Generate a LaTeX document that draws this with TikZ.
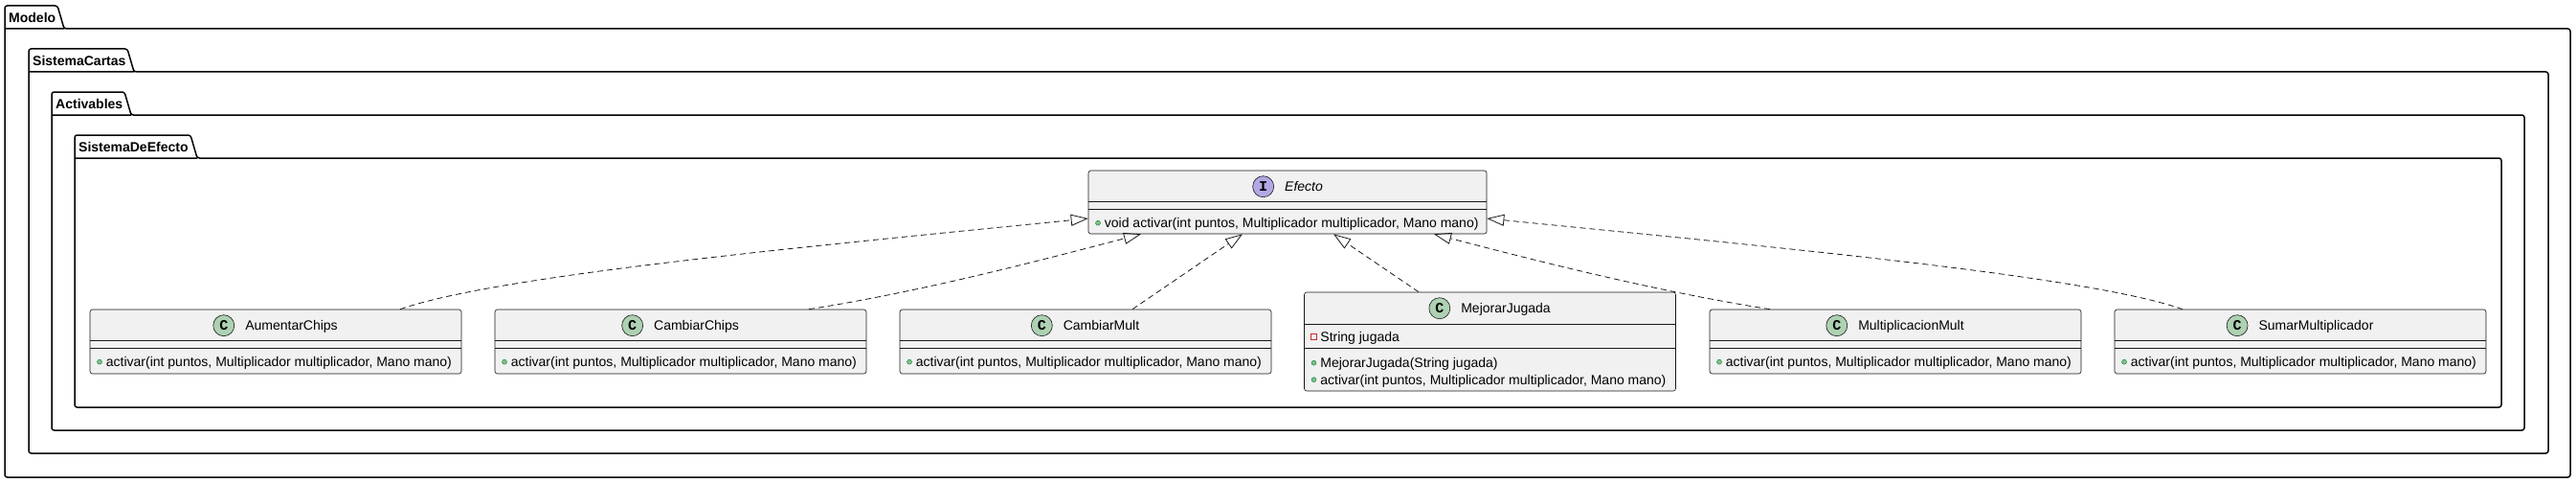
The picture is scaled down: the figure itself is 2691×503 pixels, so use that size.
\documentclass[tikz,border=0pt]{standalone}
\usepackage{fontspec}
\setmainfont{Liberation Sans}
\setmonofont{Liberation Mono}
\usetikzlibrary{arrows.meta,positioning}
\definecolor{umlfill}{HTML}{F1F1F1}
\definecolor{umlline}{HTML}{181818}
\definecolor{spotc}{HTML}{ADD1B2}
\definecolor{spoti}{HTML}{B4A7E5}
\definecolor{pubfill}{HTML}{84BE84}
\definecolor{publine}{HTML}{038048}
\definecolor{privline}{HTML}{C82930}
\tikzset{>={Triangle[open,length=18pt,width=12pt]}}

\begin{document}
\begin{tikzpicture}
    [
      x=1pt, y=-1pt,
      pkg/.style={draw, line width=1.5pt, rounded corners=2.5pt},
      pkgname/.style={font=\bfseries\fontsize{14}{16}\selectfont, inner sep=0pt, anchor=base west},
      sep/.style={draw=umlline, line width=0.6pt},
      cls/.style 2 args={draw=umlline, line width=0.6pt, fill=umlfill, rounded corners=2.5pt,
        minimum width=388pt, minimum height=67pt, inner sep=0pt,
        path picture={
          \draw [sep] ([yshift=-#1]path picture bounding box.north west) -- ([yshift=-#1]path picture bounding box.north east);
          \draw [sep] ([yshift=-#2]path picture bounding box.north west) -- ([yshift=-#2]path picture bounding box.north east);
        }},
      spot/.style={circle, draw=umlline, line width=0.6pt, minimum size=22pt, inner sep=0pt,
        xshift=-11pt, font=\ttfamily\bfseries\fontsize{15}{15}\selectfont},
      clsname/.style={font=\fontsize{14}{16}\selectfont, inner sep=0pt, anchor=base,
        text height=10pt, text depth=0pt},
      member/.style={font=\fontsize{14}{16}\selectfont, inner sep=0pt, anchor=base west,
        text height=10pt, text depth=0pt},
      pub/.style={circle, draw=publine, fill=pubfill, line width=0.4pt, minimum size=5pt, inner sep=0pt, xshift=-4pt},
      priv/.style={rectangle, draw=privline, line width=0.6pt, minimum size=6pt, inner sep=0pt, xshift=-4pt},
      pubop/.style={member, label={[pub]left:{}}},
      privattr/.style={member, label={[priv]left:{}}},
      impl/.style={->, draw=umlline, line width=0.8pt, dash pattern=on 6pt off 4pt}
    ]
    \useasboundingbox (0,0) rectangle (2691,503);

    % packages
    \draw [pkg] (5,498) -- (5,6) -- (60,6) -- (67,30) -- (2685,30) -- (2685,498) -- cycle (5,30) -- (67,30);
    \node (pkg-modelo) [pkgname] at (9,23.5) {Modelo};
    \draw [pkg] (30,473) -- (30,51) -- (133,51) -- (140,75) -- (2662,75) -- (2662,473) -- cycle (30,75) -- (140,75);
    \node (pkg-cartas) [pkgname] at (34,68.5) {SistemaCartas};
    \draw [pkg] (54,449) -- (54,96) -- (130,96) -- (137,120) -- (2637,120) -- (2637,449) -- cycle (54,120) -- (137,120);
    \node (pkg-activables) [pkgname] at (58,113.5) {Activables};
    \draw [pkg] (78,425) -- (78,141) -- (199,141) -- (206,165) -- (2613,165) -- (2613,425) -- cycle (78,165) -- (206,165);
    \node (pkg-efecto) [pkgname] at (82,158.5) {SistemaDeEfecto};

    % interface
    \node (efecto) [cls={32pt}{40pt}, minimum width=416pt, minimum height=66pt] at (1345,211) {};
    \node (efecto-name) [clsname, font=\itshape\fontsize{14}{16}\selectfont, label={[spot, fill=spoti]left:I}] at ([xshift=17pt,yshift=-22pt]efecto.north) {Efecto};
    \node (efecto-op) [pubop] at ([xshift=17pt,yshift=-60pt]efecto.north west) {void activar(int puntos, Multiplicador multiplicador, Mano mano)};

    % classes
    \node (aum) [cls={32pt}{40pt}] at (288,356.5) {};
    \node (aum-name) [clsname, label={[spot, fill=spotc]left:C}] at ([xshift=16.5pt,yshift=-22pt]aum.north) {AumentarChips};
    \node (aum-op) [pubop] at ([xshift=17pt,yshift=-60pt]aum.north west) {activar(int puntos, Multiplicador multiplicador, Mano mano)};

    \node (cch) [cls={32pt}{40pt}] at (711,356.5) {};
    \node (cch-name) [clsname, label={[spot, fill=spotc]left:C}] at ([xshift=16.5pt,yshift=-22pt]cch.north) {CambiarChips};
    \node (cch-op) [pubop] at ([xshift=17pt,yshift=-60pt]cch.north west) {activar(int puntos, Multiplicador multiplicador, Mano mano)};

    \node (cmu) [cls={32pt}{40pt}] at (1134,356.5) {};
    \node (cmu-name) [clsname, label={[spot, fill=spotc]left:C}] at ([xshift=16.5pt,yshift=-22pt]cmu.north) {CambiarMult};
    \node (cmu-op) [pubop] at ([xshift=17pt,yshift=-60pt]cmu.north west) {activar(int puntos, Multiplicador multiplicador, Mano mano)};

    \node (mej) [cls={33pt}{58pt}, minimum height=103pt] at (1556.5,356.5) {};
    \node (mej-name) [clsname, label={[spot, fill=spotc]left:C}] at ([xshift=16.5pt,yshift=-22pt]mej.north) {MejorarJugada};
    \node (mej-attr) [privattr] at ([xshift=17pt,yshift=-51.5pt]mej.north west) {String jugada};
    \node (mej-ctor) [pubop] at ([xshift=17pt,yshift=-79pt]mej.north west) {MejorarJugada(String jugada)};
    \node (mej-op) [pubop] at ([xshift=17pt,yshift=-96.5pt]mej.north west) {activar(int puntos, Multiplicador multiplicador, Mano mano)};

    \node (mul) [cls={32pt}{40pt}] at (1980,356.5) {};
    \node (mul-name) [clsname, label={[spot, fill=spotc]left:C}] at ([xshift=16.5pt,yshift=-22pt]mul.north) {MultiplicacionMult};
    \node (mul-op) [pubop] at ([xshift=17pt,yshift=-60pt]mul.north west) {activar(int puntos, Multiplicador multiplicador, Mano mano)};

    \node (sum) [cls={32pt}{40pt}] at (2403,356.5) {};
    \node (sum-name) [clsname, label={[spot, fill=spotc]left:C}] at ([xshift=16.5pt,yshift=-22pt]sum.north) {SumarMultiplicador};
    \node (sum-op) [pubop] at ([xshift=17pt,yshift=-60pt]sum.north west) {activar(int puntos, Multiplicador multiplicador, Mano mano)};

    % realizations
    \draw [impl] ([xshift=130pt]aum.north) .. controls +(100,-35) and +(-300,30) .. ([yshift=-17pt]efecto.west);
    \draw [impl] ([xshift=134pt]cch.north) .. controls +(115,-18) and +(-115,30) .. ([xshift=-153pt]efecto.south);
    \draw [impl] ([xshift=49pt]cmu.north) -- ([xshift=-47pt]efecto.south);
    \draw [impl] ([xshift=-74.5pt]mej.north) -- ([xshift=48pt]efecto.south);
    \draw [impl] ([xshift=-131pt]mul.north) .. controls +(-115,-18) and +(115,30) .. ([xshift=153pt]efecto.south);
    \draw [impl] ([xshift=-123pt]sum.north) .. controls +(-100,-35) and +(300,30) .. ([yshift=-17pt]efecto.east);
  \end{tikzpicture}
\end{document}
